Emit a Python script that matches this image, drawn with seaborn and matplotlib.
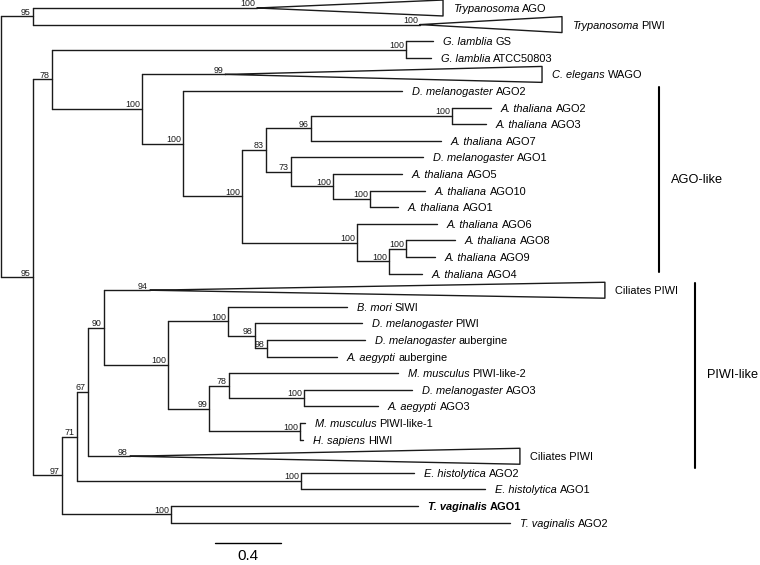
import seaborn as sns
import matplotlib.pyplot as plt
import pandas as pd

sns.set_theme(style="white")
plt.rcParams['font.family'] = ['Liberation Sans', 'DejaVu Sans']
plt.rcParams['text.color'] = 'black'

# --- Leaves, top to bottom (italic species part + upright gene part) ---
leaf_species = ["Trypanosoma", "Trypanosoma", "G. lamblia", "G. lamblia", "C. elegans",
                "D. melanogaster", "A. thaliana", "A. thaliana", "A. thaliana", "D. melanogaster",
                "A. thaliana", "A. thaliana", "A. thaliana", "A. thaliana", "A. thaliana",
                "A. thaliana", "A. thaliana", "", "B. mori", "D. melanogaster",
                "D. melanogaster", "A. aegypti", "M. musculus", "D. melanogaster", "A. aegypti",
                "M. musculus", "H. sapiens", "", "E. histolytica", "E. histolytica",
                "T. vaginalis", "T. vaginalis"]
leaf_gene = ["AGO", "PIWI", "GS", "ATCC50803", "WAGO",
             "AGO2", "AGO2", "AGO3", "AGO7", "AGO1",
             "AGO5", "AGO10", "AGO1", "AGO6", "AGO8",
             "AGO9", "AGO4", "Ciliates PIWI", "SIWI", "PIWI",
             "aubergine", "aubergine", "PIWI-like-2", "AGO3", "AGO3",
             "PIWI-like-1", "HIWI", "Ciliates PIWI", "AGO2", "AGO1",
             "AGO1", "AGO2"]
# distance from root to the tip of each leaf (substitutions/site)
leaf_depth = [2.679, 3.400, 2.618, 2.606, 3.279,
              2.430, 2.970, 2.939, 2.667, 2.558,
              2.430, 2.570, 2.406, 2.642, 2.752,
              2.630, 2.552, 3.660, 2.097, 2.188,
              2.206, 2.036, 2.406, 2.491, 2.285,
              1.842, 1.830, 3.145, 2.503, 2.933,
              2.527, 3.085]
bold_leaf = [30]

# collapsed clades drawn as triangles
clade_leaf = [0, 1, 4, 17, 27]
clade_apex = [1.552, 2.539, 1.358, 0.903, 0.782]
clade_support = [100, 100, 99, 94, 98]

# --- Internal nodes: children (leaf index or node name), depth, bootstrap ---
node_name = ["root", "tryp", "n95", "n78", "glam", "n142", "n183", "n242", "n83", "n96",
             "n452", "n73", "n333", "n370", "n357", "n389", "n406",
             "n97", "n71", "n67", "n90", "n168", "n228", "n255", "n267",
             "n209", "n229", "n304", "n300", "ehis", "tvag"]
node_kids = [["tryp", "n95"], [0, 1], ["n78", "n97"], ["glam", "n142"], [2, 3],
             [4, "n183"], [5, "n242"], ["n83", "n357"], ["n96", "n73"], ["n452", 8],
             [6, 7], [9, "n333"], [10, "n370"], [11, 12], [13, "n389"], ["n406", 16], [14, 15],
             ["n71", "tvag"], ["n67", "ehis"], ["n90", 27], [17, "n168"], ["n228", "n209"],
             [18, "n255"], [19, "n267"], [20, 21],
             ["n229", "n300"], [22, "n304"], [23, 24], [25, 26], [28, 29], [30, 31]]
node_depth = [0.0, 0.194, 0.194, 0.309, 2.455, 0.855, 1.103, 1.461, 1.606, 1.879,
              2.733, 1.758, 2.012, 2.236, 2.158, 2.352, 2.455,
              0.370, 0.461, 0.527, 0.624, 1.012, 1.376, 1.539, 1.612,
              1.261, 1.382, 1.836, 1.812, 1.818, 1.030]
node_support = [None, 95, 95, 78, 100, 100, 100, 100, 83, 96,
                100, 73, 100, 100, 100, 100, 100,
                97, 71, 67, 90, 100, 100, 98, 98,
                99, 78, 100, 100, 100, 100]

clade_names = ["AGO-like", "PIWI-like"]
scale_len = 0.4

# --- Layout ---
kids = dict(zip(node_name, node_kids))
depth = dict(zip(node_name, node_depth))
apex = dict(zip(clade_leaf, clade_apex))
ypos = {i: float(i) for i in range(len(leaf_gene))}


def place(n):
    if isinstance(n, int):
        return ypos[n]
    ys = [place(k) for k in kids[n]]
    ypos[n] = (ys[0] + ys[-1]) / 2
    return ypos[n]


place("root")

rows = []
seg = 0
for n in node_name:
    x0 = depth[n]
    ks = kids[n]
    rows += [(x0, ypos[ks[0]], seg), (x0, ypos[ks[-1]], seg)]
    seg += 1
    for k in ks:
        if isinstance(k, int):
            x1 = apex.get(k, leaf_depth[k])
        else:
            x1 = depth[k]
        rows += [(x0, ypos[k], seg), (x1, ypos[k], seg)]
        seg += 1
half = 0.48
for k in clade_leaf:
    a, t, y = apex[k], leaf_depth[k], ypos[k]
    rows += [(a, y, seg), (t, y - half, seg), (t, y + half, seg), (a, y, seg)]
    seg += 1
df = pd.DataFrame(rows, columns=["x", "y", "seg"])

# --- Figure ---
fig = plt.figure(figsize=(7.6, 5.65), dpi=100)
ax = fig.add_axes([0, 0, 1, 1])
sns.lineplot(data=df, x="x", y="y", units="seg", estimator=None, sort=False,
             color="#1a1a1a", lw=1.0, legend=False, ax=ax)

# bootstrap values
sup_kw = dict(textcoords="offset points", xytext=(-1.5, 1.2), ha="right", va="baseline",
              fontsize=6.4, color="#1a1a1a")
for n, s in zip(node_name, node_support):
    if s is not None:
        ax.annotate(str(s), (depth[n], ypos[n]), **sup_kw)
for k, s in zip(clade_leaf, clade_support):
    ax.annotate(str(s), (apex[k], ypos[k]), **sup_kw)

# leaf labels
lab_kw = dict(textcoords="offset points", va="baseline", ha="left", fontsize=7.9, color="black")
for i, (sp, gene) in enumerate(zip(leaf_species, leaf_gene)):
    w = "bold" if i in bold_leaf else "normal"
    if sp:
        t1 = ax.annotate(sp, (leaf_depth[i], ypos[i]), xytext=(7.0, -2.9),
                         style="italic", weight=w, **lab_kw)
        ax.annotate(gene, xy=(1, ypos[i]), xycoords=(t1, "data"), xytext=(2.3, -2.9),
                    weight=w, **lab_kw)
    else:
        ax.annotate(gene, (leaf_depth[i], ypos[i]), xytext=(7.0, -2.9), weight=w, **lab_kw)

# clade bars
bar_x = [3.988, 4.206]
bar_y = [(4.76, 15.9), (16.55, 27.7)]
for name, bx, (ya, yb) in zip(clade_names, bar_x, bar_y):
    ax.plot([bx, bx], [ya, yb], color="black", lw=1.5)
    ax.text(bx + 0.075, (ya + yb) / 2, name, fontsize=9.2, va="center", ha="left",
            color="black")

# scale bar
sx, sy = 1.297, 32.2
ax.plot([sx, sx + scale_len], [sy, sy], color="black", lw=1.0)
ax.text(sx + scale_len / 2, sy + 0.4, f"{scale_len}", fontsize=11, ha="center", va="top",
        color="black")

ax.set_xlim(-0.006, 4.6)
ax.set_ylim(33.55, -0.482)
ax.set_axis_off()

fig.savefig("out.png", dpi=100)
plt.close(fig)
